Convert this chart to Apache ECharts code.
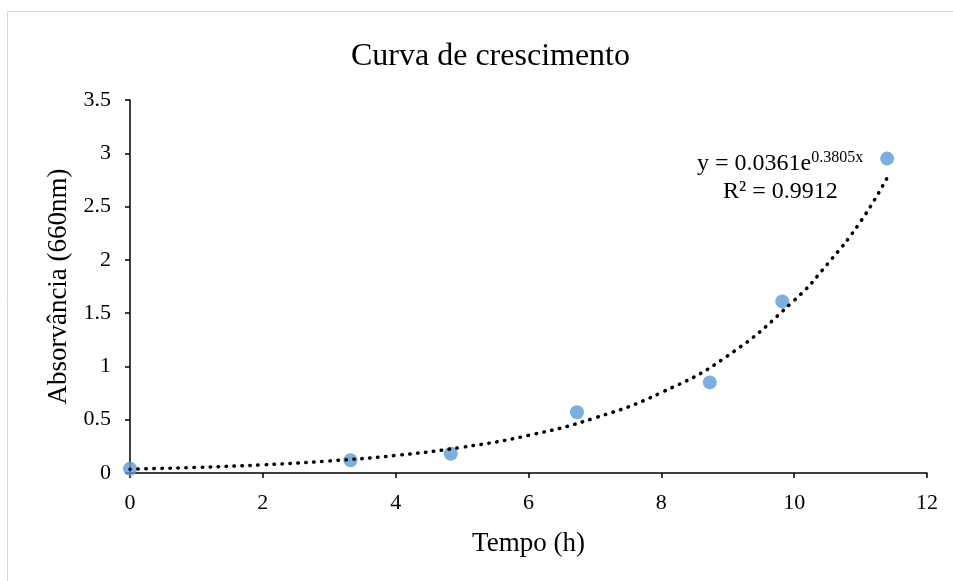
<!DOCTYPE html>
<html>
<head>
<meta charset="utf-8">
<script src="https://cdn.jsdelivr.net/npm/echarts@6/dist/echarts.min.js"></script>
<style>
  html, body { margin: 0; padding: 0; background: #fff; }
  #chart { width: 953px; height: 581px; }
</style>
</head>
<body>
<div id="chart"></div>
<script>
// medições (tempo em horas, absorvância a 660nm)
const tempo = [0, 3.32, 4.83, 6.73, 8.73, 9.82, 11.4];
const absorvancia = [0.04, 0.12, 0.18, 0.57, 0.85, 1.61, 2.95];

// linha de tendência exponencial
const tendX = [0, 1, 2, 3, 4, 5, 6, 7, 8, 9, 10, 10.5, 11, 11.4];
const tendY = [0.036, 0.053, 0.077, 0.113, 0.165, 0.242, 0.353, 0.517, 0.755, 1.1, 1.62, 1.96, 2.36, 2.77];

const xTicks = { min: 0, max: 12, interval: 2 };
const yTicks = { min: 0, max: 3.5, interval: 0.5 };

const serif = "'Liberation Serif', 'Times New Roman', serif";

const chart = echarts.init(document.getElementById("chart"));

const option = {
  animation: false,
  textStyle: { fontFamily: serif },
  title: {
    text: "Curva de crescimento",
    left: 346,
    top: 36,
    textStyle: { fontFamily: serif, fontSize: 32, fontWeight: "normal", color: "#000" },
  },
  grid: { left: 130, right: 26, top: 100, bottom: 108 },
  xAxis: {
    type: "value",
    min: xTicks.min,
    max: xTicks.max,
    interval: xTicks.interval,
    name: "Tempo (h)",
    nameLocation: "middle",
    nameGap: 57,
    nameTextStyle: { fontFamily: serif, fontSize: 27, color: "#000" },
    axisLine: { lineStyle: { color: "#000", width: 1.5 } },
    axisTick: { show: true, length: 5, lineStyle: { color: "#000", width: 1.5 } },
    axisLabel: { fontFamily: serif, fontSize: 22, color: "#000", margin: 19 },
    splitLine: { show: false },
  },
  yAxis: {
    type: "value",
    min: yTicks.min,
    max: yTicks.max,
    interval: yTicks.interval,
    name: "Absorvância (660nm)",
    nameLocation: "middle",
    nameGap: 58,
    nameTextStyle: { fontFamily: serif, fontSize: 27, color: "#000", padding: [0, 0, 0, 0] },
    axisLine: { show: true, lineStyle: { color: "#000", width: 1.5 } },
    axisTick: { show: true, length: 5, lineStyle: { color: "#000", width: 1.5 } },
    axisLabel: { fontFamily: serif, fontSize: 22, color: "#000", margin: 19 },
    splitLine: { show: false },
  },
  series: [
    {
      name: "Tendência",
      type: "line",
      data: tendX.map((x, i) => [x, tendY[i]]),
      smooth: true,
      symbol: "none",
      z: 3,
      lineStyle: { color: "#000", width: 3.5, type: [0.5, 7.5], cap: "round" },
    },
    {
      name: "Absorvância",
      type: "scatter",
      data: tempo.map((x, i) => [x, absorvancia[i]]),
      symbolSize: 14,
      z: 2,
      itemStyle: { color: "#5b9bd5" },
    },
  ],
  graphic: [
    {
      type: "rect",
      silent: true,
      shape: { x: 7.5, y: 11.5, width: 1000, height: 1000 },
      style: { fill: null, stroke: "#d9d9d9", lineWidth: 1 },
    },
    {
      type: "text",
      left: 697,
      top: 150,
      style: {
        text: "{m|y = 0.0361e}{s|0.3805x}",
        rich: {
          m: { fontFamily: serif, fontSize: 24, fill: "#000", verticalAlign: "bottom" },
          s: { fontFamily: serif, fontSize: 16, fill: "#000", verticalAlign: "top", padding: [0, 0, 10, 0] },
        },
      },
    },
    {
      type: "text",
      left: 723,
      top: 180,
      style: { text: "R² = 0.9912", fontFamily: serif, fontSize: 24, fill: "#000" },
    },
  ],
};

chart.setOption(option);
</script>
</body>
</html>
